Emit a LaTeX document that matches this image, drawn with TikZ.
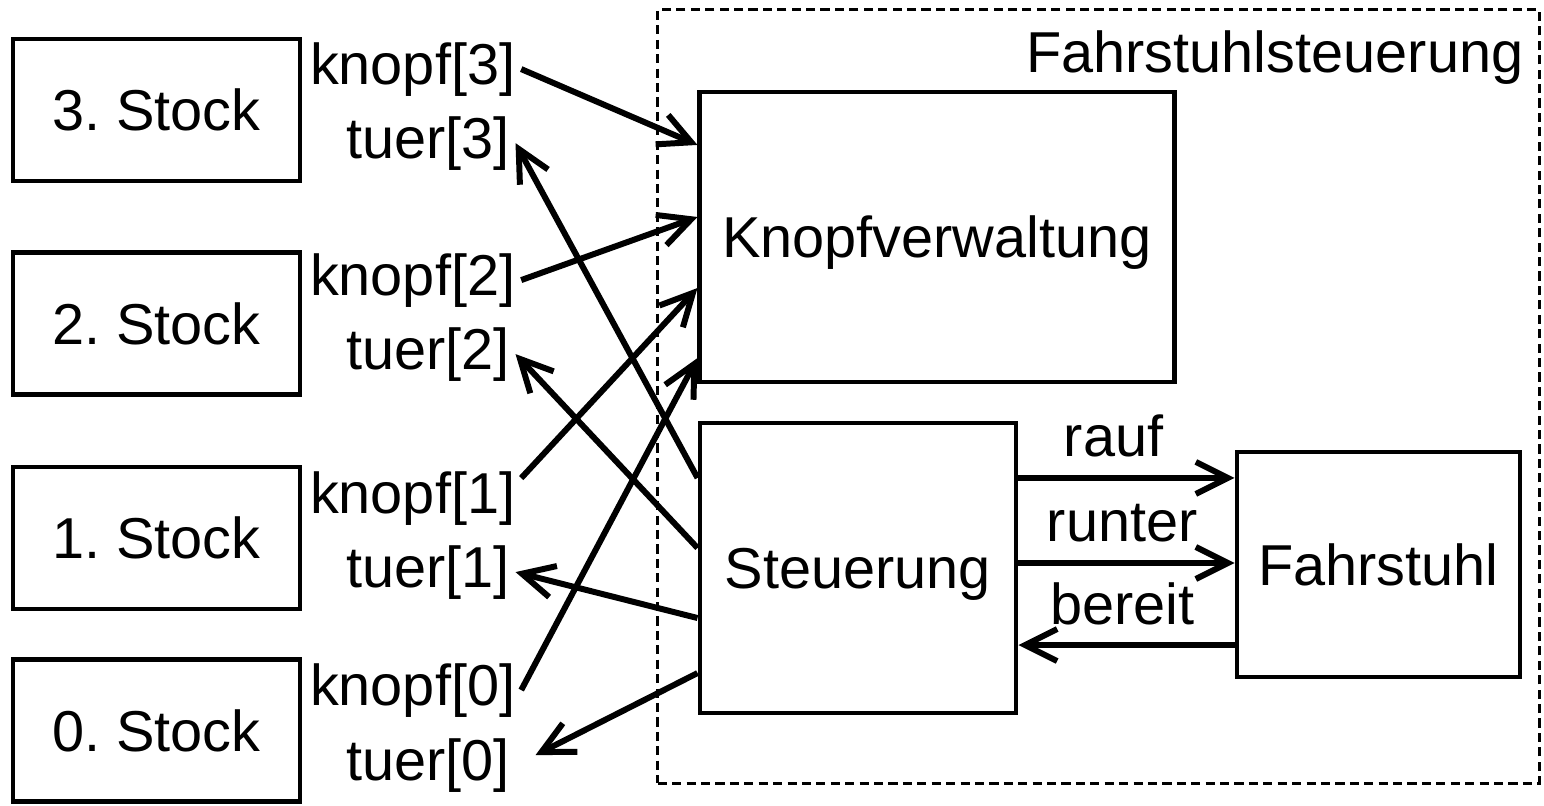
\documentclass[tikz,border=0pt]{standalone}
\usepackage{fontspec}
\setmainfont{Liberation Sans}
\usetikzlibrary{arrows.meta}

\begin{document}
\frenchspacing
\begin{tikzpicture}[x=0.01cm, y=-0.01cm,
		font=\fontsize{16.4pt}{19.7pt}\selectfont,
		>={Straight Barb[length=3.2mm, width=3.2mm]},
		box/.style={draw, line width=1.35pt, inner sep=0pt, text depth=0pt},
		stock/.style={box, minimum width=2.87cm, minimum height=1.42cm},
		sig/.style={inner sep=0pt, outer sep=0.6mm},
		wire/.style={->, line width=1.7pt},
		wirelabel/.style={anchor=base, inner sep=0pt, yshift=2.1mm}]

	\useasboundingbox (0,0) rectangle (1544,806);

	\node[draw, line width=0.85pt, dash pattern=on 2.6pt off 1.5pt, inner sep=0pt,
		minimum width=8.81cm, minimum height=7.73cm] (frame) at (1098.5,396.5) {};
	\node[anchor=base east, inner sep=0pt] (title) at (1524,72) {Fahrstuhlsteuerung};

	\node[stock] (s3) at (156.5,110) {3. Stock};
	\node[stock] (s2) at (156.5,323.5) {2. Stock};
	\node[stock] (s1) at (156.5,538) {1. Stock};
	\node[stock] (s0) at (156.5,730.5) {0. Stock};

	\node[sig, anchor=base west] (k3) at (304,84) {knopf[3]};
	\node[sig, anchor=base west] (t3) at (340,158) {tuer[3]};
	\node[sig, anchor=base west] (k2) at (304,295) {knopf[2]};
	\node[sig, anchor=base west] (t2) at (340,369) {tuer[2]};
	\node[sig, anchor=base west] (k1) at (304,513) {knopf[1]};
	\node[sig, anchor=base west] (t1) at (340,587) {tuer[1]};
	\node[sig, anchor=base west] (k0) at (304,705) {knopf[0]};
	\node[sig, anchor=base west] (t0) at (340,780) {tuer[0]};

	\node[box, minimum width=4.74cm, minimum height=2.9cm] (kv) at (937,237) {Knopfverwaltung};
	\node[box, minimum width=3.16cm, minimum height=2.9cm] (st) at (858,568) {Steuerung};
	\node[box, minimum width=2.83cm, minimum height=2.25cm] (fs) at (1378.5,564.5) {Fahrstuhl};

	\draw[wire] (k3.east) -- ([yshift=9.2mm]kv.west);
	\draw[wire] (k2.east) -- ([yshift=2mm]kv.west);
	\draw[wire] ([yshift=2mm]k1.east) -- ([yshift=-5.1mm]kv.west);
	\draw[wire] (k0.east) -- ([yshift=-12.1mm]kv.west);

	\draw[wire] ([yshift=9mm]st.west) -- (t3.east);
	\draw[wire] ([yshift=2mm]st.west) -- (t2.east);
	\draw[wire] ([yshift=-5mm]st.west) -- (t1.east);
	\draw[wire] ([yshift=-10.5mm]st.west) -- ([shift={(2mm,1mm)}]t0.east);

	\draw[wire] ([yshift=9mm]st.east) -- ([yshift=9mm]st.east -| fs.west)
		node[wirelabel, pos=0.44] {rauf};
	\draw[wire] ([yshift=0.5mm]st.east) -- ([yshift=0.5mm]st.east -| fs.west)
		node[wirelabel, pos=0.48] {runter};
	\draw[wire] ([yshift=-7.7mm]st.east -| fs.west) -- ([yshift=-7.7mm]st.east)
		node[wirelabel, pos=0.52] {bereit};

\end{tikzpicture}
\end{document}
